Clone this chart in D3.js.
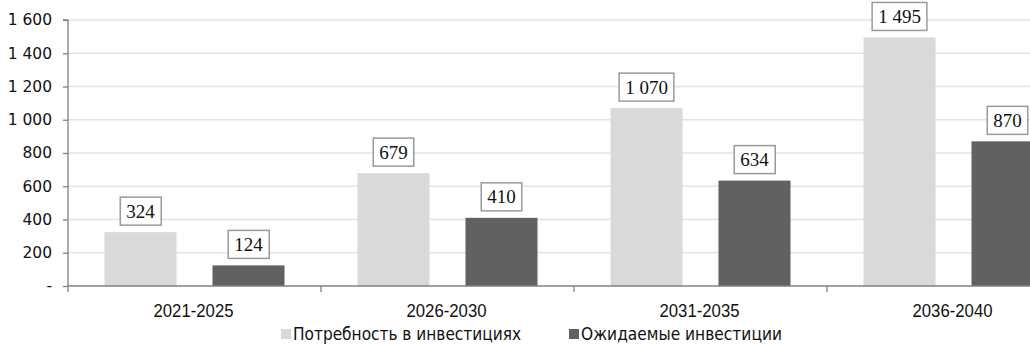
<!DOCTYPE html>
<html>
<head>
<meta charset="utf-8">
<script src="https://cdn.jsdelivr.net/npm/d3@7"></script>
<style>
  body { margin: 0; background: #fff; }
  svg { display: block; }
</style>
</head>
<body>
<svg id="chart" width="1030" height="344"></svg>
<script>
const periods = ["2021-2025", "2026-2030", "2031-2035", "2036-2040"];
const need = [324, 679, 1070, 1495];
const expected = [124, 410, 634, 870];
const seriesNames = ["Потребность в инвестициях", "Ожидаемые инвестиции"];
const seriesColors = ["#d9d9d9", "#616161"];
const yTicks = [0, 200, 400, 600, 800, 1000, 1200, 1400, 1600];

const fmt = v => v === 0 ? "-" : d3.format(",")(v).replace(/,/g, " ");

const svg = d3.select("#chart");
const plotLeft = 68, plotTop = 20, plotBottom = 286;
const bandW = 253;

const y = d3.scaleLinear().domain([0, 1600]).range([plotBottom, plotTop]);
const x0 = d3.scaleBand().domain(periods)
  .range([plotLeft, plotLeft + bandW * periods.length]).paddingInner(0).paddingOuter(0);
const x1 = d3.scaleBand().domain([0, 1])
  .range([0, x0.bandwidth()]).paddingInner(0.333).paddingOuter(0.338);

svg.append("defs").append("clipPath").attr("id", "clip")
  .append("rect").attr("x", plotLeft).attr("y", 0).attr("width", 1030 - plotLeft).attr("height", 344);

// gridlines
svg.append("g").selectAll("line").data(yTicks.slice(1)).join("line")
  .attr("x1", plotLeft).attr("x2", 1030)
  .attr("y1", d => y(d)).attr("y2", d => y(d))
  .attr("stroke", "#e3e3e3").attr("stroke-width", 1.3);

const data = periods.map((p, i) => ({ p, vals: [need[i], expected[i]] }));

const plot = svg.append("g").attr("clip-path", "url(#clip)");
const groups = plot.selectAll("g.grp").data(data).join("g")
  .attr("transform", d => `translate(${x0(d.p)},0)`);

groups.selectAll("rect").data(d => d.vals.map((v, k) => ({ v, k }))).join("rect")
  .attr("x", d => x1(d.k)).attr("width", x1.bandwidth())
  .attr("y", d => y(d.v)).attr("height", d => y(0) - y(d.v))
  .attr("fill", d => seriesColors[d.k]);

// value labels
const labs = groups.selectAll("g.lab").data(d => d.vals.map((v, k) => ({ v, k }))).join("g")
  .attr("transform", d => `translate(${x1(d.k) + x1.bandwidth() / 2},${y(d.v) - 21})`);
labs.append("text")
  .attr("text-anchor", "middle").attr("dy", "0.35em")
  .attr("font-family", "Liberation Serif, serif").attr("font-size", 19)
  .attr("fill", "#111")
  .text(d => fmt(d.v));
labs.each(function () {
  const g = d3.select(this);
  const bb = g.select("text").node().getBBox();
  g.insert("rect", "text")
    .attr("x", bb.x - 6).attr("y", -14).attr("width", bb.width + 12).attr("height", 28)
    .attr("fill", "#fff").attr("stroke", "#9a9a9a").attr("stroke-width", 1.5);
});

// y axis
const yAxis = svg.append("g").attr("transform", `translate(${plotLeft},0)`)
  .call(d3.axisLeft(y).tickValues(yTicks).tickSize(5).tickFormat(fmt));
yAxis.select(".domain").attr("stroke", "#808080").attr("stroke-width", 1.3)
  .attr("d", `M-5,${plotTop}H0V${plotBottom + 6}`);
yAxis.selectAll(".tick line").attr("stroke", "#808080").attr("stroke-width", 1.3);
yAxis.selectAll(".tick text").attr("x", -16)
  .attr("font-family", "DejaVu Sans, sans-serif").attr("font-size", 15.5).attr("fill", "#111");

// x axis
const xAxis = svg.append("g").attr("transform", `translate(0,${plotBottom})`);
xAxis.append("line").attr("x1", plotLeft).attr("x2", 1030).attr("stroke", "#808080").attr("stroke-width", 1.3);
xAxis.selectAll("line.tk").data(periods.slice(1)).join("line")
  .attr("class", "tk")
  .attr("x1", d => x0(d)).attr("x2", d => x0(d)).attr("y1", 0).attr("y2", 6)
  .attr("stroke", "#808080").attr("stroke-width", 1.3);
xAxis.selectAll("text").data(periods).join("text")
  .attr("x", d => x0(d) + x0.bandwidth() / 2 - 1).attr("y", 31)
  .attr("text-anchor", "middle")
  .attr("font-family", "Liberation Sans Narrow, Liberation Sans, sans-serif").attr("font-size", 19)
  .attr("fill", "#111").attr("textLength", 80).attr("lengthAdjust", "spacingAndGlyphs")
  .text(d => d);

// legend
const legX = [281, 569];
const legLen = [228, 201];
const leg = svg.append("g").selectAll("g").data(seriesNames).join("g")
  .attr("transform", (d, i) => `translate(${legX[i]},340)`);
leg.append("rect").attr("x", 0).attr("y", -11).attr("width", 10).attr("height", 10)
  .attr("fill", (d, i) => seriesColors[i]);
leg.append("text").attr("x", 12).attr("y", 0)
  .attr("font-family", "DejaVu Sans Condensed, DejaVu Sans, sans-serif").attr("font-size", 17)
  .attr("fill", "#111").attr("textLength", (d, i) => legLen[i])
  .attr("lengthAdjust", "spacingAndGlyphs")
  .text(d => d);
</script>
</body>
</html>
